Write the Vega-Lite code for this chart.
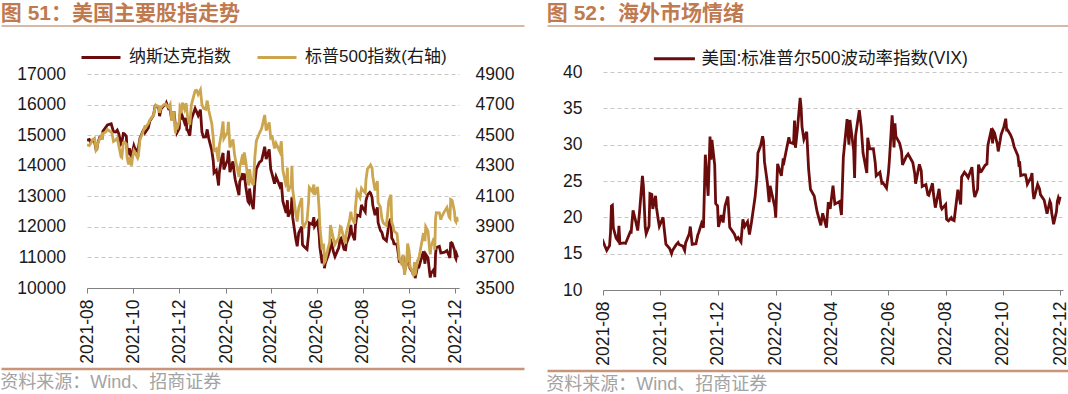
{
"$schema": "https://vega.github.io/schema/vega-lite/v6.json",
"padding": {"top": 3, "left": 0, "right": 0, "bottom": 0},
"config": {
  "view": {"stroke": null},
  "font": "Liberation Sans, Noto Sans CJK SC",
  "axis": {"labelFont": "Liberation Sans, Noto Sans CJK SC", "labelFontSize": 17.5, "labelColor": "#1a1a1a"},
  "legend": {"labelFont": "Liberation Sans, Noto Sans CJK SC", "labelFontSize": 17, "labelColor": "#1a1a1a", "labelLimit": 400}
},
"datasets": {"m": [
{"d":"2021-08-06","n":14835,"s":4437,"v":16.15},
{"d":"2021-08-09","n":14860,"s":4432,"v":16.72},
{"d":"2021-08-11","n":14765,"s":4447,"v":16.06},
{"d":"2021-08-13","n":14823,"s":4468,"v":15.45},
{"d":"2021-08-16","n":14794,"s":4479,"v":16.12},
{"d":"2021-08-17","n":14656,"s":4448,"v":17.91},
{"d":"2021-08-18","n":14525,"s":4400,"v":21.57},
{"d":"2021-08-19","n":14542,"s":4406,"v":21.67},
{"d":"2021-08-20","n":14715,"s":4442,"v":18.56},
{"d":"2021-08-23","n":14943,"s":4480,"v":17.15},
{"d":"2021-08-25","n":14945,"s":4497,"v":16.79},
{"d":"2021-08-26","n":14870,"s":4470,"v":18.84},
{"d":"2021-08-27","n":15130,"s":4509,"v":16.39},
{"d":"2021-08-31","n":15259,"s":4523,"v":16.48},
{"d":"2021-09-02","n":15331,"s":4537,"v":16.41},
{"d":"2021-09-07","n":15374,"s":4520,"v":18.00},
{"d":"2021-09-08","n":15286,"s":4514,"v":17.96},
{"d":"2021-09-10","n":15115,"s":4459,"v":20.95},
{"d":"2021-09-13","n":15106,"s":4469,"v":19.37},
{"d":"2021-09-15","n":15162,"s":4481,"v":18.18},
{"d":"2021-09-17","n":15044,"s":4433,"v":20.81},
{"d":"2021-09-20","n":14714,"s":4358,"v":25.71},
{"d":"2021-09-21","n":14747,"s":4354,"v":24.36},
{"d":"2021-09-23","n":15052,"s":4449,"v":18.63},
{"d":"2021-09-24","n":15048,"s":4455,"v":17.75},
{"d":"2021-09-27","n":14970,"s":4443,"v":18.76},
{"d":"2021-09-28","n":14546,"s":4353,"v":23.25},
{"d":"2021-09-30","n":14449,"s":4308,"v":23.14},
{"d":"2021-10-01","n":14567,"s":4357,"v":21.15},
{"d":"2021-10-04","n":14255,"s":4300,"v":22.96},
{"d":"2021-10-05","n":14433,"s":4346,"v":21.30},
{"d":"2021-10-07","n":14654,"s":4399,"v":19.54},
{"d":"2021-10-08","n":14580,"s":4391,"v":18.77},
{"d":"2021-10-12","n":14465,"s":4351,"v":20.00},
{"d":"2021-10-13","n":14572,"s":4364,"v":18.64},
{"d":"2021-10-15","n":14897,"s":4471,"v":16.30},
{"d":"2021-10-19","n":15130,"s":4520,"v":15.70},
{"d":"2021-10-21","n":15216,"s":4549,"v":15.01},
{"d":"2021-10-22","n":15090,"s":4545,"v":15.43},
{"d":"2021-10-26","n":15236,"s":4575,"v":16.24},
{"d":"2021-10-28","n":15448,"s":4596,"v":16.53},
{"d":"2021-10-29","n":15498,"s":4605,"v":16.26},
{"d":"2021-11-02","n":15650,"s":4631,"v":16.03},
{"d":"2021-11-04","n":15940,"s":4680,"v":15.44},
{"d":"2021-11-05","n":15971,"s":4697,"v":16.48},
{"d":"2021-11-09","n":15886,"s":4685,"v":17.78},
{"d":"2021-11-10","n":15622,"s":4646,"v":18.73},
{"d":"2021-11-12","n":15861,"s":4683,"v":16.29},
{"d":"2021-11-16","n":15974,"s":4701,"v":16.37},
{"d":"2021-11-18","n":15994,"s":4704,"v":17.59},
{"d":"2021-11-19","n":16057,"s":4698,"v":17.91},
{"d":"2021-11-22","n":15854,"s":4682,"v":19.17},
{"d":"2021-11-24","n":15845,"s":4701,"v":18.58},
{"d":"2021-11-26","n":15491,"s":4595,"v":28.62},
{"d":"2021-11-29","n":15782,"s":4655,"v":22.96},
{"d":"2021-11-30","n":15538,"s":4567,"v":27.19},
{"d":"2021-12-01","n":15254,"s":4513,"v":31.12},
{"d":"2021-12-02","n":15381,"s":4577,"v":27.95},
{"d":"2021-12-03","n":15085,"s":4538,"v":30.67},
{"d":"2021-12-06","n":15225,"s":4592,"v":27.18},
{"d":"2021-12-07","n":15686,"s":4686,"v":21.89},
{"d":"2021-12-09","n":15517,"s":4668,"v":21.58},
{"d":"2021-12-10","n":15630,"s":4712,"v":18.69},
{"d":"2021-12-13","n":15413,"s":4669,"v":20.31},
{"d":"2021-12-15","n":15566,"s":4709,"v":19.29},
{"d":"2021-12-16","n":15180,"s":4669,"v":20.57},
{"d":"2021-12-17","n":15170,"s":4621,"v":21.57},
{"d":"2021-12-20","n":14981,"s":4568,"v":22.87},
{"d":"2021-12-22","n":15522,"s":4697,"v":18.63},
{"d":"2021-12-27","n":15871,"s":4791,"v":17.68},
{"d":"2021-12-29","n":15766,"s":4793,"v":16.95},
{"d":"2021-12-31","n":15645,"s":4766,"v":17.22},
{"d":"2022-01-03","n":15833,"s":4797,"v":16.60},
{"d":"2022-01-05","n":15100,"s":4700,"v":19.73},
{"d":"2022-01-07","n":14936,"s":4677,"v":18.76},
{"d":"2022-01-10","n":14943,"s":4670,"v":19.40},
{"d":"2022-01-12","n":15188,"s":4726,"v":17.62},
{"d":"2022-01-14","n":14894,"s":4663,"v":19.19},
{"d":"2022-01-18","n":14507,"s":4577,"v":22.79},
{"d":"2022-01-20","n":14155,"s":4483,"v":25.59},
{"d":"2022-01-21","n":13769,"s":4398,"v":28.85},
{"d":"2022-01-24","n":13855,"s":4410,"v":29.90},
{"d":"2022-01-26","n":13542,"s":4350,"v":31.16},
{"d":"2022-01-27","n":13353,"s":4327,"v":30.49},
{"d":"2022-01-28","n":13771,"s":4432,"v":27.66},
{"d":"2022-01-31","n":14240,"s":4516,"v":24.83},
{"d":"2022-02-02","n":14417,"s":4589,"v":22.09},
{"d":"2022-02-03","n":13879,"s":4477,"v":24.35},
{"d":"2022-02-08","n":14194,"s":4521,"v":21.44},
{"d":"2022-02-09","n":14490,"s":4587,"v":19.96},
{"d":"2022-02-10","n":14186,"s":4504,"v":23.91},
{"d":"2022-02-11","n":13791,"s":4419,"v":27.36},
{"d":"2022-02-15","n":14139,"s":4472,"v":25.70},
{"d":"2022-02-17","n":13717,"s":4380,"v":28.11},
{"d":"2022-02-18","n":13548,"s":4349,"v":27.75},
{"d":"2022-02-23","n":13037,"s":4226,"v":31.02},
{"d":"2022-02-24","n":13474,"s":4288,"v":30.32},
{"d":"2022-02-28","n":13751,"s":4374,"v":30.15},
{"d":"2022-03-01","n":13533,"s":4306,"v":33.32},
{"d":"2022-03-02","n":13752,"s":4387,"v":29.57},
{"d":"2022-03-04","n":13313,"s":4329,"v":31.98},
{"d":"2022-03-07","n":12831,"s":4201,"v":36.45},
{"d":"2022-03-08","n":12795,"s":4171,"v":35.13},
{"d":"2022-03-09","n":13256,"s":4278,"v":32.45},
{"d":"2022-03-11","n":12844,"s":4204,"v":30.75},
{"d":"2022-03-14","n":12581,"s":4173,"v":31.77},
{"d":"2022-03-16","n":13437,"s":4358,"v":26.67},
{"d":"2022-03-18","n":13894,"s":4463,"v":23.87},
{"d":"2022-03-22","n":14109,"s":4512,"v":22.94},
{"d":"2022-03-25","n":14169,"s":4543,"v":20.81},
{"d":"2022-03-29","n":14620,"s":4632,"v":18.90},
{"d":"2022-03-31","n":14221,"s":4530,"v":20.56},
{"d":"2022-04-04","n":14533,"s":4583,"v":18.57},
{"d":"2022-04-06","n":13888,"s":4481,"v":22.10},
{"d":"2022-04-08","n":13711,"s":4488,"v":21.16},
{"d":"2022-04-11","n":13411,"s":4413,"v":24.37},
{"d":"2022-04-13","n":13644,"s":4447,"v":21.82},
{"d":"2022-04-18","n":13332,"s":4392,"v":22.17},
{"d":"2022-04-20","n":13453,"s":4460,"v":20.32},
{"d":"2022-04-22","n":12840,"s":4272,"v":28.21},
{"d":"2022-04-26","n":12491,"s":4175,"v":33.52},
{"d":"2022-04-27","n":12489,"s":4183,"v":31.60},
{"d":"2022-04-28","n":12872,"s":4288,"v":29.99},
{"d":"2022-04-29","n":12335,"s":4132,"v":33.40},
{"d":"2022-05-03","n":12564,"s":4175,"v":29.25},
{"d":"2022-05-04","n":12965,"s":4300,"v":25.42},
{"d":"2022-05-05","n":12318,"s":4147,"v":31.20},
{"d":"2022-05-09","n":11623,"s":3991,"v":34.75},
{"d":"2022-05-11","n":11364,"s":3935,"v":32.56},
{"d":"2022-05-13","n":11805,"s":4024,"v":28.87},
{"d":"2022-05-17","n":12012,"s":4088,"v":26.10},
{"d":"2022-05-18","n":11418,"s":3923,"v":30.96},
{"d":"2022-05-20","n":11354,"s":3901,"v":29.43},
{"d":"2022-05-24","n":11264,"s":3941,"v":29.45},
{"d":"2022-05-26","n":11741,"s":4058,"v":27.50},
{"d":"2022-05-27","n":12131,"s":4158,"v":25.72},
{"d":"2022-05-31","n":12081,"s":4132,"v":26.19},
{"d":"2022-06-02","n":12317,"s":4177,"v":24.72},
{"d":"2022-06-03","n":12013,"s":4109,"v":24.79},
{"d":"2022-06-07","n":12175,"s":4161,"v":24.02},
{"d":"2022-06-09","n":11754,"s":4018,"v":26.09},
{"d":"2022-06-10","n":11340,"s":3901,"v":27.75},
{"d":"2022-06-13","n":10809,"s":3750,"v":34.02},
{"d":"2022-06-15","n":11099,"s":3790,"v":29.62},
{"d":"2022-06-16","n":10646,"s":3667,"v":32.95},
{"d":"2022-06-17","n":10798,"s":3675,"v":31.13},
{"d":"2022-06-21","n":11069,"s":3765,"v":30.19},
{"d":"2022-06-23","n":11232,"s":3796,"v":29.05},
{"d":"2022-06-24","n":11608,"s":3912,"v":27.23},
{"d":"2022-06-28","n":11181,"s":3821,"v":28.36},
{"d":"2022-06-30","n":11029,"s":3785,"v":28.71},
{"d":"2022-07-05","n":11322,"s":3831,"v":27.54},
{"d":"2022-07-07","n":11621,"s":3902,"v":26.07},
{"d":"2022-07-08","n":11635,"s":3899,"v":24.64},
{"d":"2022-07-12","n":11265,"s":3819,"v":27.29},
{"d":"2022-07-14","n":11251,"s":3790,"v":26.40},
{"d":"2022-07-15","n":11452,"s":3863,"v":24.23},
{"d":"2022-07-19","n":11713,"s":3937,"v":24.50},
{"d":"2022-07-21","n":12060,"s":3999,"v":23.11},
{"d":"2022-07-22","n":11834,"s":3962,"v":23.03},
{"d":"2022-07-26","n":11563,"s":3921,"v":24.69},
{"d":"2022-07-27","n":12032,"s":4024,"v":23.24},
{"d":"2022-07-29","n":12391,"s":4130,"v":21.33},
{"d":"2022-08-02","n":12349,"s":4091,"v":23.93},
{"d":"2022-08-04","n":12721,"s":4152,"v":21.44},
{"d":"2022-08-05","n":12657,"s":4145,"v":21.15},
{"d":"2022-08-09","n":12493,"s":4122,"v":21.77},
{"d":"2022-08-10","n":12855,"s":4210,"v":19.74},
{"d":"2022-08-12","n":13047,"s":4280,"v":19.53},
{"d":"2022-08-15","n":13128,"s":4297,"v":19.95},
{"d":"2022-08-16","n":13103,"s":4305,"v":19.69},
{"d":"2022-08-18","n":12966,"s":4284,"v":19.56},
{"d":"2022-08-19","n":12705,"s":4228,"v":20.60},
{"d":"2022-08-22","n":12381,"s":4138,"v":23.80},
{"d":"2022-08-25","n":12640,"s":4199,"v":21.78},
{"d":"2022-08-26","n":12142,"s":4058,"v":25.56},
{"d":"2022-08-29","n":11884,"s":4031,"v":26.21},
{"d":"2022-08-31","n":11816,"s":3955,"v":25.87},
{"d":"2022-09-02","n":11631,"s":3924,"v":25.47},
{"d":"2022-09-06","n":11544,"s":3909,"v":26.91},
{"d":"2022-09-08","n":11862,"s":4006,"v":23.61},
{"d":"2022-09-09","n":12112,"s":4067,"v":22.79},
{"d":"2022-09-12","n":12266,"s":4110,"v":23.87},
{"d":"2022-09-13","n":11634,"s":3932,"v":27.27},
{"d":"2022-09-15","n":11552,"s":3901,"v":26.27},
{"d":"2022-09-16","n":11448,"s":3873,"v":26.30},
{"d":"2022-09-20","n":11425,"s":3856,"v":27.16},
{"d":"2022-09-22","n":11066,"s":3758,"v":27.35},
{"d":"2022-09-23","n":10868,"s":3693,"v":29.92},
{"d":"2022-09-27","n":10829,"s":3647,"v":32.26},
{"d":"2022-09-28","n":11052,"s":3719,"v":30.18},
{"d":"2022-09-29","n":10737,"s":3640,"v":31.84},
{"d":"2022-09-30","n":10576,"s":3586,"v":31.62},
{"d":"2022-10-03","n":10815,"s":3678,"v":30.10},
{"d":"2022-10-04","n":11176,"s":3791,"v":29.07},
{"d":"2022-10-06","n":11073,"s":3744,"v":30.52},
{"d":"2022-10-07","n":10652,"s":3640,"v":31.36},
{"d":"2022-10-10","n":10542,"s":3612,"v":32.45},
{"d":"2022-10-12","n":10418,"s":3577,"v":33.57},
{"d":"2022-10-13","n":10649,"s":3669,"v":32.02},
{"d":"2022-10-14","n":10321,"s":3583,"v":32.02},
{"d":"2022-10-17","n":10676,"s":3678,"v":31.37},
{"d":"2022-10-19","n":10680,"s":3695,"v":30.76},
{"d":"2022-10-21","n":10860,"s":3752,"v":29.69},
{"d":"2022-10-25","n":11199,"s":3859,"v":28.46},
{"d":"2022-10-26","n":10970,"s":3830,"v":27.28},
{"d":"2022-10-27","n":10793,"s":3807,"v":27.39},
{"d":"2022-10-28","n":11102,"s":3901,"v":25.75},
{"d":"2022-10-31","n":10988,"s":3872,"v":25.88},
{"d":"2022-11-02","n":10525,"s":3760,"v":25.86},
{"d":"2022-11-03","n":10342,"s":3720,"v":25.30},
{"d":"2022-11-04","n":10475,"s":3771,"v":24.55},
{"d":"2022-11-08","n":10617,"s":3828,"v":25.54},
{"d":"2022-11-09","n":10353,"s":3749,"v":26.09},
{"d":"2022-11-10","n":11114,"s":3956,"v":23.53},
{"d":"2022-11-11","n":11323,"s":3993,"v":22.52},
{"d":"2022-11-15","n":11359,"s":3992,"v":24.54},
{"d":"2022-11-17","n":11145,"s":3947,"v":23.93},
{"d":"2022-11-18","n":11146,"s":3965,"v":23.12},
{"d":"2022-11-22","n":11174,"s":4003,"v":22.36},
{"d":"2022-11-25","n":11226,"s":4026,"v":20.50},
{"d":"2022-11-28","n":11050,"s":3964,"v":22.21},
{"d":"2022-11-29","n":10984,"s":3958,"v":21.89},
{"d":"2022-11-30","n":11468,"s":4080,"v":20.58},
{"d":"2022-12-01","n":11482,"s":4077,"v":19.84},
{"d":"2022-12-02","n":11462,"s":4072,"v":19.06},
{"d":"2022-12-05","n":11240,"s":3999,"v":20.75},
{"d":"2022-12-06","n":11015,"s":3941,"v":22.21},
{"d":"2022-12-07","n":10958,"s":3933,"v":22.68},
{"d":"2022-12-08","n":11082,"s":3964,"v":22.29},
{"d":"2022-12-09","n":11005,"s":3934,"v":22.83}
]},
"spacing": 20,
"resolve": {"scale": {"x": "independent", "y": "independent", "color": "independent"}},
"hconcat": [
 {
  "spacing": 3,
  "resolve": {"scale": {"x": "independent", "y": "independent", "color": "independent"}},
  "vconcat": [
   {
    "width": 372, "height": 7,
    "data": {"values": [{"a": 0, "b": 1, "c": 1}]},
    "title": {"text": "图 51：美国主要股指走势", "anchor": "start", "frame": "bounds", "orient": "top", "fontSize": 21, "fontWeight": "bold", "color": "#BF7A50", "font": "Liberation Sans, Noto Sans CJK SC", "offset": 1},
    "mark": {"type": "rule", "color": "#C9A08A", "strokeWidth": 1.3},
    "encoding": {
     "x": {"field": "a", "type": "quantitative", "scale": {"domain": [0, 1], "range": [-85.5, 437.5]}, "axis": null},
     "x2": {"field": "b"},
     "y": {"field": "c", "type": "quantitative", "scale": {"domain": [0, 1]}, "axis": null}
    }
   },
   {
    "width": 372, "height": 214,
    "data": {"name": "m"},
    "resolve": {"scale": {"y": "independent"}},
    "layer": [
     {
      "mark": {"type": "line", "strokeWidth": 2.8, "clip": true},
      "encoding": {
       "x": {"field": "d", "type": "temporal",
             "scale": {"type": "utc", "domain": [{"year": 2021, "month": 8, "date": 6, "utc": true}, {"year": 2022, "month": 12, "date": 11, "utc": true}]},
             "axis": {"title": null, "format": "%Y-%m", "labelAngle": 270, "tickSize": 5, "labelPadding": 6, "grid": false, "domainColor": "#808080", "tickColor": "#808080", "labelOverlap": false, "labelFlush": false,
                      "values": [{"year": 2021, "month": 8, "date": 6, "utc": true}, {"year": 2021, "month": 10, "date": 6, "utc": true}, {"year": 2021, "month": 12, "date": 6, "utc": true}, {"year": 2022, "month": 2, "date": 6, "utc": true}, {"year": 2022, "month": 4, "date": 6, "utc": true}, {"year": 2022, "month": 6, "date": 6, "utc": true}, {"year": 2022, "month": 8, "date": 6, "utc": true}, {"year": 2022, "month": 10, "date": 6, "utc": true}, {"year": 2022, "month": 12, "date": 6, "utc": true}]}},
       "y": {"field": "n", "type": "quantitative", "scale": {"domain": [10000, 17000], "zero": false},
             "axis": {"title": null, "values": [10000, 11000, 12000, 13000, 14000, 15000, 16000, 17000], "format": "d", "grid": true, "gridDash": [4, 3], "gridColor": "#C8C8C8", "ticks": false, "domain": false, "labelPadding": 21.5}},
       "color": {"datum": "纳斯达克指数", "type": "nominal",
                 "scale": {"domain": ["纳斯达克指数", "标普500指数(右轴)"], "range": ["#6B0C0C", "#CCA54F"]},
                 "legend": {"title": null, "orient": "none", "legendX": -7, "legendY": -37.6, "direction": "horizontal", "symbolType": "stroke", "symbolSize": 1521, "symbolStrokeWidth": 3, "labelOffset": 7, "columnPadding": 20}}
      }
     },
     {
      "mark": {"type": "line", "strokeWidth": 2.8, "clip": true},
      "encoding": {
       "x": {"field": "d", "type": "temporal"},
       "y": {"field": "s", "type": "quantitative", "scale": {"domain": [3500, 4900], "zero": false},
             "axis": {"title": null, "orient": "right", "values": [3500, 3700, 3900, 4100, 4300, 4500, 4700, 4900], "format": "d", "grid": false, "ticks": false, "domain": false, "labelPadding": 16}},
       "color": {"datum": "标普500指数(右轴)", "type": "nominal"}
      }
     }
    ]
   },
   {
    "width": 372, "height": 1,
    "data": {"values": [{"a": 0, "b": 1, "c": 1}]},
    "title": {"text": "资料来源：Wind、招商证券", "anchor": "start", "frame": "bounds", "orient": "bottom", "fontSize": 18, "fontWeight": "normal", "color": "#A3A3A3", "font": "Liberation Sans, Noto Sans CJK SC", "offset": 3.5},
    "mark": {"type": "rule", "color": "#C8957A", "strokeWidth": 2.5},
    "encoding": {
     "x": {"field": "a", "type": "quantitative", "scale": {"domain": [0, 1], "range": [-85.5, 437.5]}, "axis": null},
     "x2": {"field": "b"},
     "y": {"field": "c", "type": "quantitative", "scale": {"domain": [0, 1]}, "axis": null}
    }
   }
  ]
 },
 {
  "spacing": 3,
  "resolve": {"scale": {"x": "independent", "y": "independent", "color": "independent"}},
  "vconcat": [
   {
    "width": 460, "height": 7,
    "data": {"values": [{"a": 0, "b": 1, "c": 1}]},
    "title": {"text": "图 52：海外市场情绪", "anchor": "start", "frame": "bounds", "orient": "top", "fontSize": 21, "fontWeight": "bold", "color": "#BF7A50", "font": "Liberation Sans, Noto Sans CJK SC", "offset": 1},
    "mark": {"type": "rule", "color": "#C9A08A", "strokeWidth": 1.3},
    "encoding": {
     "x": {"field": "a", "type": "quantitative", "scale": {"domain": [0, 1], "range": [-55.5, 468.5]}, "axis": null},
     "x2": {"field": "b"},
     "y": {"field": "c", "type": "quantitative", "scale": {"domain": [0, 1]}, "axis": null}
    }
   },
   {
    "width": 460, "height": 218,
    "data": {"name": "m"},
    "mark": {"type": "line", "strokeWidth": 2.8, "clip": true},
    "encoding": {
     "x": {"field": "d", "type": "temporal",
           "scale": {"type": "utc", "domain": [{"year": 2021, "month": 8, "date": 9, "utc": true}, {"year": 2022, "month": 12, "date": 12, "utc": true}]},
           "axis": {"title": null, "format": "%Y-%m", "labelAngle": 270, "tickSize": 5, "labelPadding": 6, "grid": false, "domainColor": "#808080", "tickColor": "#808080", "labelOverlap": false, "labelFlush": false,
                    "values": [{"year": 2021, "month": 8, "date": 9, "utc": true}, {"year": 2021, "month": 10, "date": 9, "utc": true}, {"year": 2021, "month": 12, "date": 9, "utc": true}, {"year": 2022, "month": 2, "date": 9, "utc": true}, {"year": 2022, "month": 4, "date": 9, "utc": true}, {"year": 2022, "month": 6, "date": 9, "utc": true}, {"year": 2022, "month": 8, "date": 9, "utc": true}, {"year": 2022, "month": 10, "date": 9, "utc": true}, {"year": 2022, "month": 12, "date": 9, "utc": true}]}},
     "y": {"field": "v", "type": "quantitative", "scale": {"domain": [10, 40], "zero": false},
           "axis": {"title": null, "values": [10, 15, 20, 25, 30, 35, 40], "format": "d", "grid": true, "gridDash": [4, 3], "gridColor": "#C8C8C8", "ticks": false, "domain": false, "labelPadding": 21}},
     "color": {"datum": "美国:标准普尔500波动率指数(VIX)", "type": "nominal",
               "scale": {"range": ["#6B0C0C"]},
               "legend": {"title": null, "orient": "none", "legendX": 49.4, "legendY": -35.2, "direction": "horizontal", "symbolType": "stroke", "symbolSize": 1681, "symbolStrokeWidth": 3, "labelOffset": 5, "labelFontSize": 17.5}}
    }
   },
   {
    "width": 460, "height": 1,
    "data": {"values": [{"a": 0, "b": 1, "c": 1}]},
    "title": {"text": "资料来源：Wind、招商证券", "anchor": "start", "frame": "bounds", "orient": "bottom", "fontSize": 18, "fontWeight": "normal", "color": "#A3A3A3", "font": "Liberation Sans, Noto Sans CJK SC", "offset": 3.5},
    "mark": {"type": "rule", "color": "#C8957A", "strokeWidth": 2.5},
    "encoding": {
     "x": {"field": "a", "type": "quantitative", "scale": {"domain": [0, 1], "range": [-55.5, 468.5]}, "axis": null},
     "x2": {"field": "b"},
     "y": {"field": "c", "type": "quantitative", "scale": {"domain": [0, 1]}, "axis": null}
    }
   }
  ]
 }
]
}
